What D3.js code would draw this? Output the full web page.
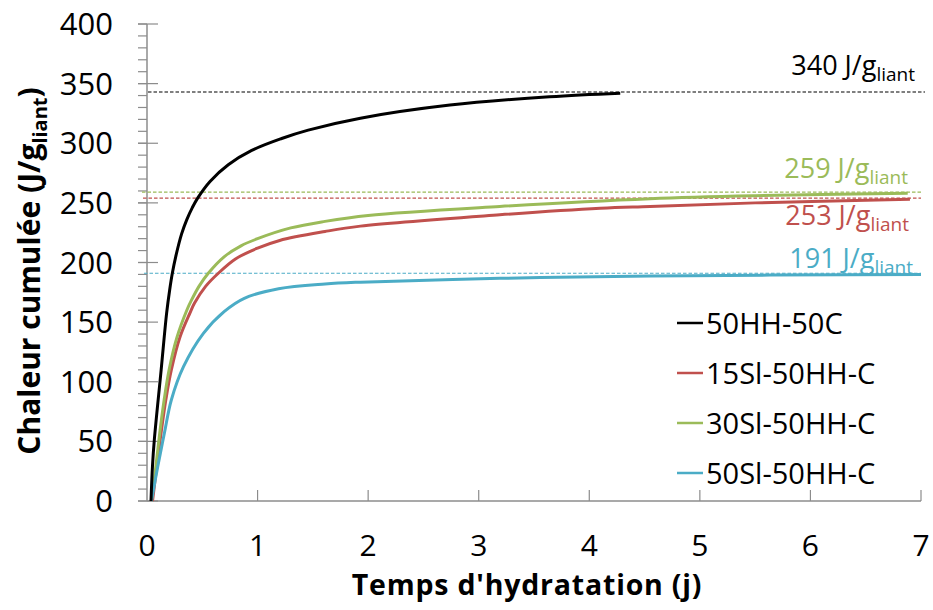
<!DOCTYPE html>
<html><head><meta charset="utf-8">
<script src="https://cdn.jsdelivr.net/npm/d3@7"></script>
<style>
html,body{margin:0;padding:0;background:#fff;}
text{font-family:"Open Sans","Noto Sans",sans-serif;}
</style></head>
<body><svg id="chart" width="933" height="610"></svg>
<script>
// ---- data ----
const seriesNames = ["50HH-50C","15Sl-50HH-C","30Sl-50HH-C","50Sl-50HH-C"];
const seriesColors = ["#000000","#C0504D","#9BBB59","#4BACC6"];
const s50HH = [[0.036,0],[0.05,30],[0.066,51],[0.128,110],[0.178,158],[0.205,177],[0.229,191],[0.26,205],[0.313,224],[0.36,236],[0.41,246],[0.458,254],[0.57,268],[0.735,282],[0.947,294],[1.218,304],[1.458,311],[1.93,321],[2.74,332],[3.64,339],[4.28,342]];
const s15Sl = [[0.05,0],[0.088,28.8],[0.127,56.8],[0.17,84.7],[0.22,110],[0.30,138],[0.39,158],[0.43,166],[0.53,180],[0.645,191],[0.8,203],[1.0,212],[1.2,218.5],[1.61,226],[1.93,230.5],[3.19,240],[4.1,245.5],[4.55,247],[5.5,250],[6.9,253]];
const s30Sl = [[0.04,0],[0.08,28.8],[0.115,56.8],[0.155,84.7],[0.2,110],[0.27,137],[0.36,160],[0.40,168],[0.47,180],[0.554,191],[0.7,205],[0.85,214],[1.0,220],[1.3,229],[1.61,234.5],[2.0,239.5],[3.19,247],[4.55,253.5],[5.5,256],[6.88,258]];
const s50Sl = [[0.04,0],[0.097,28.8],[0.157,56.8],[0.22,84.7],[0.33,112.6],[0.51,140.6],[0.7,159],[0.88,170],[1.19,178],[1.61,182],[1.93,183.5],[3.19,186.7],[4.55,188.7],[7.0,190]];
const allSeries = [s50HH,s15Sl,s30Sl,s50Sl];
// asymptote reference lines and labels (black, green, red, blue)
const refValues = [343,259,254,191];
const refLabels = ["340","259","253","191"];
const refColors = ["#000000","#9BBB59","#C0504D","#4BACC6"];
const xTicks = [0,1,2,3,4,5,6,7];
const yTicks = [0,50,100,150,200,250,300,350,400];
const yMinorTicks = d3.range(0,401,10);

// ---- layout ----
const svg = d3.select("#chart");
const x = d3.scaleLinear().domain([0,7]).range([147,921]);
const y = d3.scaleLinear().domain([0,400]).range([501,24]);
const axisColor = "#8c8c8c";

// minor y ticks
svg.append("g").selectAll("line").data(yMinorTicks).join("line")
  .attr("x1",138).attr("x2",147).attr("y1",d=>y(d)).attr("y2",d=>y(d))
  .attr("stroke",axisColor).attr("stroke-width",1.2);
// major y ticks
svg.append("g").selectAll("line").data(yTicks).join("line")
  .attr("x1",138).attr("x2",158).attr("y1",d=>y(d)).attr("y2",d=>y(d))
  .attr("stroke",axisColor).attr("stroke-width",1.2);
// axes lines
svg.append("line").attr("x1",x(0)).attr("x2",x(0)).attr("y1",y(400)).attr("y2",y(0)).attr("stroke",axisColor).attr("stroke-width",1.5);
svg.append("line").attr("x1",x(0)).attr("x2",x(7)).attr("y1",y(0)).attr("y2",y(0)).attr("stroke",axisColor).attr("stroke-width",1.5);
// x ticks
svg.append("g").selectAll("line").data(xTicks.slice(1)).join("line")
  .attr("x1",d=>x(d)).attr("x2",d=>x(d)).attr("y1",y(0)).attr("y2",y(0)-11)
  .attr("stroke",axisColor).attr("stroke-width",1.2);

// tick labels
svg.append("g").selectAll("text").data(yTicks).join("text")
  .attr("x",113).attr("y",d=>y(d)+11).attr("text-anchor","end")
  .attr("font-size",31).attr("fill","#000").text(d=>d);
svg.append("g").selectAll("text").data(xTicks).join("text")
  .attr("x",d=>x(d)).attr("y",556).attr("text-anchor","middle")
  .attr("font-size",30).attr("fill","#000").text(d=>d);

// axis titles
svg.append("text").attr("x",527).attr("y",595).attr("text-anchor","middle")
  .attr("font-size",28.5).attr("letter-spacing",0.8).attr("font-weight","bold").text("Temps d'hydratation (j)");
const yt = svg.append("text").attr("transform","translate(40,271) rotate(-90)")
  .attr("text-anchor","middle").attr("font-size",30).attr("font-weight","bold");
yt.append("tspan").text("Chaleur cumulée (J/g");
yt.append("tspan").attr("font-size",20).attr("dy",7).text("liant");
yt.append("tspan").attr("dy",-7).text(")");

// reference dashed lines
const refStart = [148,142,143,144];
const refEnd = [925,921,921,921];
svg.append("g").selectAll("line").data(refValues).join("line")
  .attr("x1",(d,i)=>refStart[i]).attr("x2",(d,i)=>refEnd[i])
  .attr("y1",d=>y(d)).attr("y2",d=>y(d))
  .attr("stroke",(d,i)=>refColors[i]).attr("stroke-width",1.1)
  .attr("stroke-dasharray","3.5,2");

// series lines
const line = d3.line().x(d=>x(d[0])).y(d=>y(d[1])).curve(d3.curveCatmullRom.alpha(0.5));
svg.append("g").selectAll("path").data([1,2,3,0].map(i=>({d:allSeries[i],c:seriesColors[i]}))).join("path")
  .attr("d",s=>line(s.d)).attr("fill","none").attr("stroke",s=>s.c)
  .attr("stroke-width",3).attr("stroke-linejoin","round");

// reference labels
const labelPos = [[915,75],[908,178],[909,225],[913,268]];
refLabels.forEach((lab,i)=>{
  const t = svg.append("text").attr("x",labelPos[i][0]).attr("y",labelPos[i][1])
    .attr("text-anchor","end").attr("font-size",27).attr("fill",refColors[i]);
  t.append("tspan").text(lab+" J/g");
  t.append("tspan").attr("font-size",19).attr("dy",6).text("liant");
});

// legend
const legY = [323,373,423,473];
const lg = svg.append("g");
seriesNames.forEach((n,i)=>{
  lg.append("line").attr("x1",677).attr("x2",703).attr("y1",legY[i]).attr("y2",legY[i])
    .attr("stroke",seriesColors[i]).attr("stroke-width",2.5);
  lg.append("text").attr("x",706).attr("y",legY[i]+11).attr("font-size",29).attr("fill","#000").text(n);
});
</script></body></html>
